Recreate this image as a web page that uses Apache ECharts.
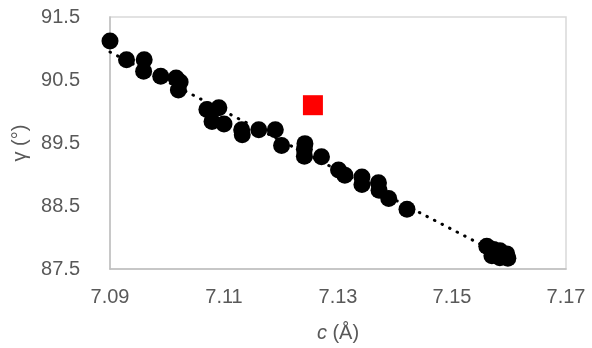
<!DOCTYPE html>
<html>
<head>
<meta charset="utf-8">
<script src="https://cdn.jsdelivr.net/npm/echarts@6/dist/echarts.min.js"></script>
<style>
  html, body { margin: 0; padding: 0; background: #fff; }
  #chart { width: 592px; height: 348px; }
</style>
</head>
<body>
<div id="chart"></div>
<script>
// Lattice parameter c (Å) against angle γ (°)
const cValues = [
  7.0900, 7.0929, 7.0960, 7.0959, 7.0989, 7.1016, 7.1023, 7.1020,
  7.1070, 7.1091, 7.1079, 7.1100, 7.1131, 7.1132, 7.1161, 7.1190,
  7.1201, 7.1242, 7.1241, 7.1241, 7.1271, 7.1301, 7.1312, 7.1342,
  7.1342, 7.1371, 7.1372, 7.1389, 7.1421, 7.1561, 7.1573, 7.1584,
  7.1570, 7.1584, 7.1596, 7.1598
];
const gammaValues = [
  91.12, 90.82, 90.82, 90.64, 90.56, 90.53, 90.47, 90.34,
  90.03, 90.06, 89.84, 89.80, 89.71, 89.63, 89.71, 89.71,
  89.46, 89.49, 89.40, 89.29, 89.28, 89.07, 88.99, 88.96,
  88.84, 88.87, 88.75, 88.62, 88.45, 87.86, 87.81, 87.79,
  87.71, 87.68, 87.74, 87.67
];
// Separate reference sample
const refC = [7.1256];
const refGamma = [90.10];

const xTicks = { min: 7.09, max: 7.17, interval: 0.02 };
const yTicks = { min: 87.5, max: 91.5, interval: 1 };

// Least-squares linear trend through the black points
function linearFit(xs, ys) {
  const n = xs.length;
  let sx = 0, sy = 0, sxx = 0, sxy = 0;
  for (let i = 0; i < n; i++) {
    sx += xs[i]; sy += ys[i];
    sxx += xs[i] * xs[i]; sxy += xs[i] * ys[i];
  }
  const slope = (n * sxy - sx * sy) / (n * sxx - sx * sx);
  const icpt = (sy - slope * sx) / n;
  return { slope, icpt };
}
const fit = linearFit(cValues, gammaValues);
const xLo = Math.min(...cValues), xHi = Math.max(...cValues);
const trend = [[xLo, fit.icpt + fit.slope * xLo], [xHi, fit.icpt + fit.slope * xHi]];

const textColor = '#595959';
const fontSize = 20;
const chart = echarts.init(document.getElementById('chart'), null, { renderer: 'canvas' });
chart.setOption({
  animation: false,
  backgroundColor: '#ffffff',
  grid: {
    left: 110, right: 26, top: 17, bottom: 79,
    show: true, borderColor: '#d9d9d9', borderWidth: 1.5, backgroundColor: 'transparent'
  },
  xAxis: {
    type: 'value',
    min: xTicks.min, max: xTicks.max, interval: xTicks.interval,
    axisLine: { show: true, lineStyle: { color: '#bfbfbf', width: 1.5 } },
    axisTick: { show: false },
    splitLine: { show: false },
    axisLabel: {
      color: textColor, fontFamily: 'Liberation Sans', fontSize: fontSize, margin: 18,
      formatter: v => v.toFixed(2)
    },
    name: '{i|c} (Å)',
    nameLocation: 'middle',
    nameGap: 54,
    nameTextStyle: {
      color: textColor, fontFamily: 'Liberation Sans', fontSize: fontSize,
      rich: { i: { fontStyle: 'italic', color: textColor, fontFamily: 'Liberation Sans', fontSize: fontSize } }
    }
  },
  yAxis: {
    type: 'value',
    min: yTicks.min, max: yTicks.max, interval: yTicks.interval,
    axisLine: { show: true, lineStyle: { color: '#bfbfbf', width: 1.5 } },
    axisTick: { show: false },
    splitLine: { show: false },
    axisLabel: {
      color: textColor, fontFamily: 'Liberation Sans', fontSize: fontSize, margin: 30,
      formatter: v => v.toFixed(1)
    },
    name: 'γ (°)',
    nameLocation: 'middle',
    nameGap: 80,
    nameRotate: 90,
    nameTextStyle: { color: textColor, fontFamily: 'Liberation Sans', fontSize: fontSize }
  },
  series: [
    {
      type: 'line',
      data: trend,
      showSymbol: false,
      symbol: 'none',
      z: 1,
      lineStyle: { color: '#000', width: 3, type: [0.5, 8], cap: 'round' }
    },
    {
      type: 'scatter',
      data: cValues.map((c, i) => [c, gammaValues[i]]),
      symbol: 'circle',
      symbolSize: 17,
      z: 2,
      itemStyle: { color: '#000', opacity: 1 }
    },
    {
      type: 'scatter',
      data: refC.map((c, i) => [c, refGamma[i]]),
      symbol: 'rect',
      symbolSize: 20,
      z: 3,
      itemStyle: { color: '#ff0000', opacity: 1 }
    }
  ]
});
</script>
</body>
</html>
